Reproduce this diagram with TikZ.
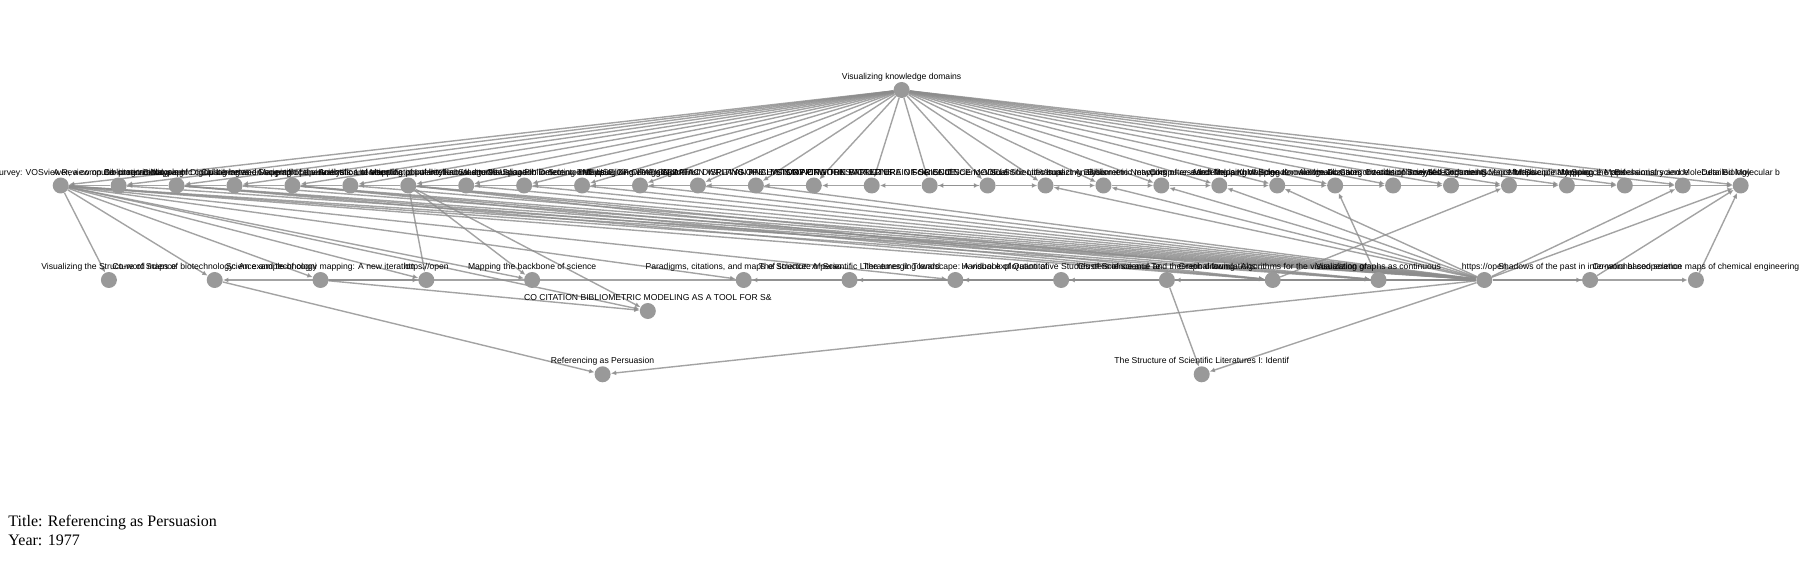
\documentclass[tikz,border=0pt]{standalone}
\usepackage{fontspec}
\setmainfont{Liberation Serif}
\newfontfamily\lblfont{Liberation Sans}
\usetikzlibrary{arrows.meta}
\definecolor{edgec}{RGB}{140,140,140}
\definecolor{nodec}{RGB}{153,153,153}
\pgfdeclarelayer{bg}
\pgfsetlayers{bg,main}
\begin{document}
\begin{tikzpicture}[x=1pt,y=-1pt,
  dot/.style={circle,fill=nodec,draw=none,inner sep=0pt,minimum size=16pt},
  lbl/.style={font=\lblfont\fontsize{8.6}{9}\selectfont,anchor=base,inner sep=0pt,text=black},
  edge/.style={draw=edgec,opacity=0.8,line width=1.4pt,-{Latex[length=5.5pt,width=5pt]}},
  infotext/.style={font=\fontsize{16}{19}\selectfont,anchor=base west,inner sep=0pt}]
\useasboundingbox (0,0) rectangle (1817,585);

% top node
\node[dot] (T) at (901.6,90) {};
\node[lbl] at (901.6,80) {Visualizing knowledge domains};

% row 1
\foreach \k/\t in {
 0/{Software survey: VOSviewer, a computer program for},
 1/{A Review on Bibliometric Mapping},
 2/{Co-citation analysis of Digital Libraries},
 3/{Bibliographic coupling between scientific papers},
 4/{Clustering and Mapping of the Scientific Literatu},
 5/{Geographical visualization of scientific popularity},
 6/{Analysis and visualization of intellectual structu},
 7/{Mapping of Intellectual Structures Using Bibliometr},
 8/{Knowledge Visualization in Scientometrics},
 9/{CiteSpace II: Detecting and visualizing emerging t},
 10/{Mapping Knowledge Domains},
 11/{THE USE OF CITATION DATA IN WRITING THE HISTORY OF},
 12/{GRAPHIC DISPLAYS OF CITATION NETWORKS},
 13/{AN ANALYSIS OF CITATION PATTERNS},
 14/{MAPPING THE STRUCTURE OF SCIENCE},
 15/{WORLD BRAIN FOR SCIENCE MODELS},
 16/{Science of Science: Scientific Literature},
 17/{Visual Scientific Impact Analysis},
 18/{Visualizing Bibliometric Networks},
 19/{Bibliometric mapping of research fields},
 20/{Computer-aided Mapping of Science},
 21/{Modeling and Mapping Knowledge Domains},
 22/{Knowledge domain visualization: Co-citation analys},
 23/{Automatic Categorization of Scientific Documents},
 24/{Interdisciplinary research and Science Maps},
 25/{Self-Organizing Maps for Science Mapping},
 26/{Multidisciplinary Science Maps},
 27/{Mapping the professional science},
 28/{Biochemistry and Molecular Biology},
 29/{Detailed Molecular b}}{
  \pgfmathsetmacro\xx{60.7+57.93*\k}
  \node[dot] (a\k) at (\xx,185.5) {};
  \node[lbl] at (\xx,175.5) {\t};
}

% row 2
\foreach \k/\t in {
 0/{Visualizing the Structure of Science},
 1/{Co-word maps of biotechnology: An example of cogni},
 2/{Science and technology mapping: A new iteration},
 3/{https://open},
 4/{Mapping the backbone of science},
 6/{Paradigms, citations, and maps of science: A perso},
 7/{The Structure of Scientific Literatures II: Toward},
 8/{The emerging landscape: A visual exploration of},
 9/{Handbook of Quantitative Studies of Science and Te},
 10/{Clusters of science and theoretical foundations},
 11/{Graph drawing: Algorithms for the visualization of},
 12/{Visualizing graphs as continuous},
 13/{https://open},
 14/{Shadows of the past in international cooperation},
 15/{Co-word based science maps of chemical engineering}}{
  \pgfmathsetmacro\xx{108.9+105.8*\k}
  \node[dot] (b\k) at (\xx,280) {};
  \node[lbl] at (\xx,269.5) {\t};
}

% lower nodes
\node[dot] (co) at (647.8,311) {};
\node[lbl] at (647.8,300.5) {CO CITATION BIBLIOMETRIC MODELING AS A TOOL FOR S\&};
\node[dot] (ref) at (602.6,374.3) {};
\node[lbl] at (602.6,363.8) {Referencing as Persuasion};
\node[dot] (str) at (1201.7,374.3) {};
\node[lbl] at (1201.7,363.8) {The Structure of Scientific Literatures I: Identif};

% info text
\node[infotext] (ti) at (8.3,526) {Title: Referencing as Persuasion};
\node[infotext] (yr) at (8.3,545) {Year: 1977};

\begin{pgfonlayer}{bg}
  % top to row 1
  \foreach \k in {0,...,29} \draw[edge] (T) -- (a\k);
  % row 1 chains
  \foreach \k in {0,...,15}{\pgfmathtruncatemacro\n{\k+1}\draw[edge] (a\n) -- (a\k);}
  \foreach \k in {15,...,28}{\pgfmathtruncatemacro\n{\k+1}\draw[edge] (a\k) -- (a\n);}
  % first node fan
  \foreach \t in {b0,b1,b2,b3,b4,co,b6,b8,b11,b12,b13} \draw[edge] (a0) -- (\t);
  % bundle into hub
  \foreach \k in {1,...,12} \draw[edge] (a\k) -- (b13);
  \foreach \t in {b3,b4,co,b11,b12} \draw[edge] (a6) -- (\t);
  \foreach \t in {b11,b12} \draw[edge] (a2) -- (\t);
  \foreach \t in {b11,b12} \draw[edge] (a4) -- (\t);
  % hub outgoing
  \foreach \t in {a17,a18,a19,a20,a21,a28,a29} \draw[edge] (b13) -- (\t);
  \foreach \t in {b1,b6,b7,b8,b9,b10,b14,b15} \draw[edge] (b13) -- (\t);
  \draw[edge] (b11) -- (a25);
  \draw[edge] (b12) -- (a22);
  \draw[edge] (b14) -- (a29);
  \draw[edge] (b15) -- (a29);
  \draw[edge] (b2) -- (b3);
  \draw[edge] (b2) -- (co);
  \draw[edge] (b1) -- (ref);
  \draw[edge] (b13) -- (ref);
  \draw[edge] (b10) -- (str);
  \draw[edge] (b13) -- (str);
\end{pgfonlayer}
\end{tikzpicture}
\end{document}
